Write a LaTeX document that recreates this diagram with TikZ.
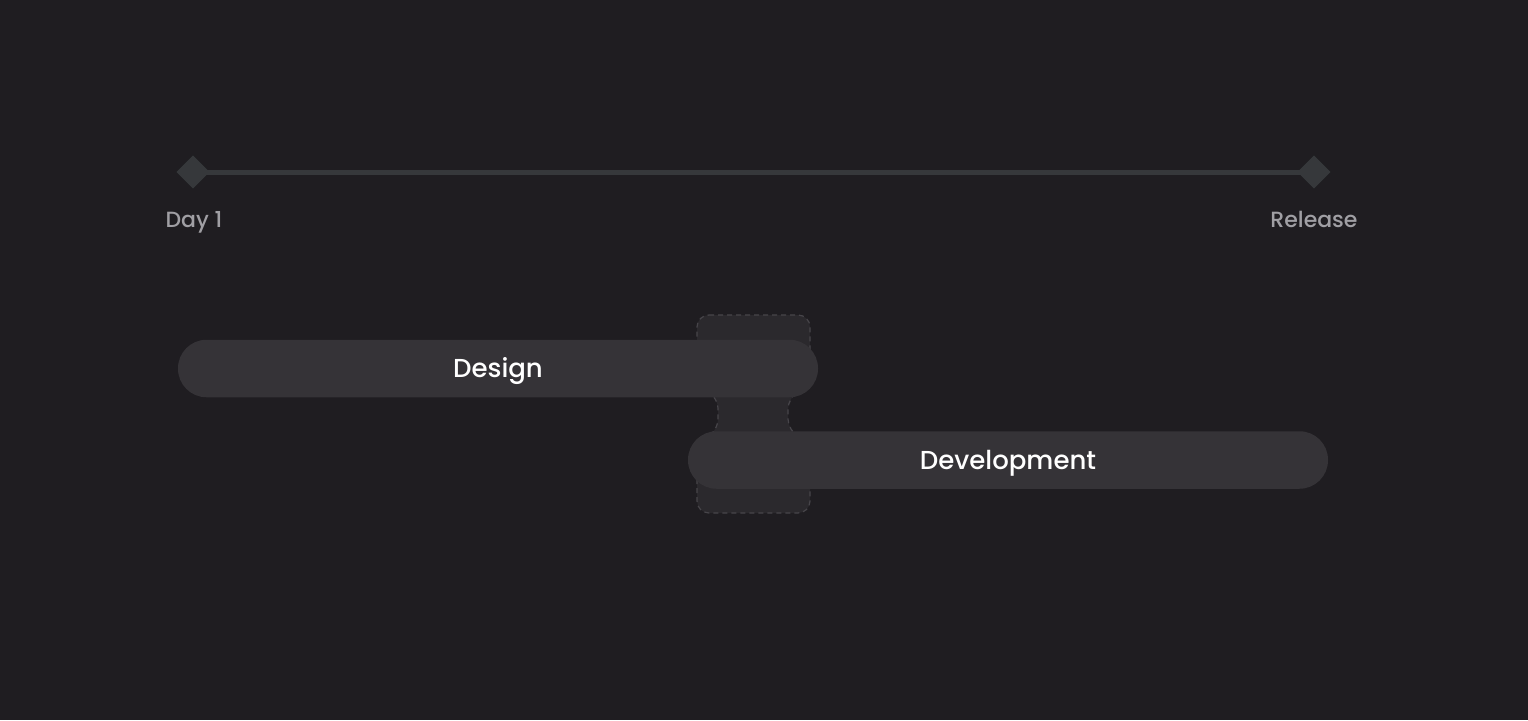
\documentclass[tikz,border=0pt]{standalone}
\usepackage{fontspec}
\setmainfont{Poppins}[UprightFont={* Medium}]
\usetikzlibrary{shapes.geometric}
\definecolor{bg}{HTML}{1F1D21}
\definecolor{bar}{HTML}{353337}
\definecolor{ghost}{HTML}{2B292D}
\definecolor{ghostline}{HTML}{47454A}
\definecolor{tline}{HTML}{36383B}
\definecolor{muted}{HTML}{A09FA4}
\tikzset{
  milestone/.style={diamond, fill=tline, minimum width=33pt, minimum height=33pt, inner sep=0pt},
  mlabel/.style={text=muted, font=\fontsize{22}{26}\selectfont, inner sep=0pt, anchor=base},
  phase/.style={rounded corners=28.5pt, fill=bar, minimum height=57.5pt, minimum width=640pt, inner sep=0pt, text=white, font=\fontsize{26}{30}\selectfont, text height=18pt, text depth=0pt},
}
\begin{document}
\begin{tikzpicture}[x=1pt,y=-1pt]
\fill[bg] (0,0) rectangle (1528,720);
\useasboundingbox (0,0) rectangle (1528,720);
% timeline
\node[milestone] (start) at (193,172) {};
\node[milestone] (rel) at (1314,172) {};
\draw[tline, line width=5pt] (start.center) -- (rel.center);
\node[milestone] at (193,172) {};
\node[milestone] at (1314,172) {};
\node[mlabel] (l1) at (194,227.5) {Day 1};
\node[mlabel] (l2) at (1314,227.5) {Release};
% overlap ghost
\draw[ghostline, fill=ghost, dashed, dash pattern=on 5pt off 4pt, line width=1.2pt, rounded corners=12pt]
  (697,315) -- (810,315) -- (810,385) -- (788,397) -- (788,431) -- (810,443) -- (810,513)
  -- (697,513) -- (697,443) -- (718,431) -- (718,397) -- (697,385) -- cycle;
% phases
\node[phase] (design) at (498,368.5) {Design};
\node[phase] (dev) at (1008,460) {Development};
\end{tikzpicture}
\end{document}
